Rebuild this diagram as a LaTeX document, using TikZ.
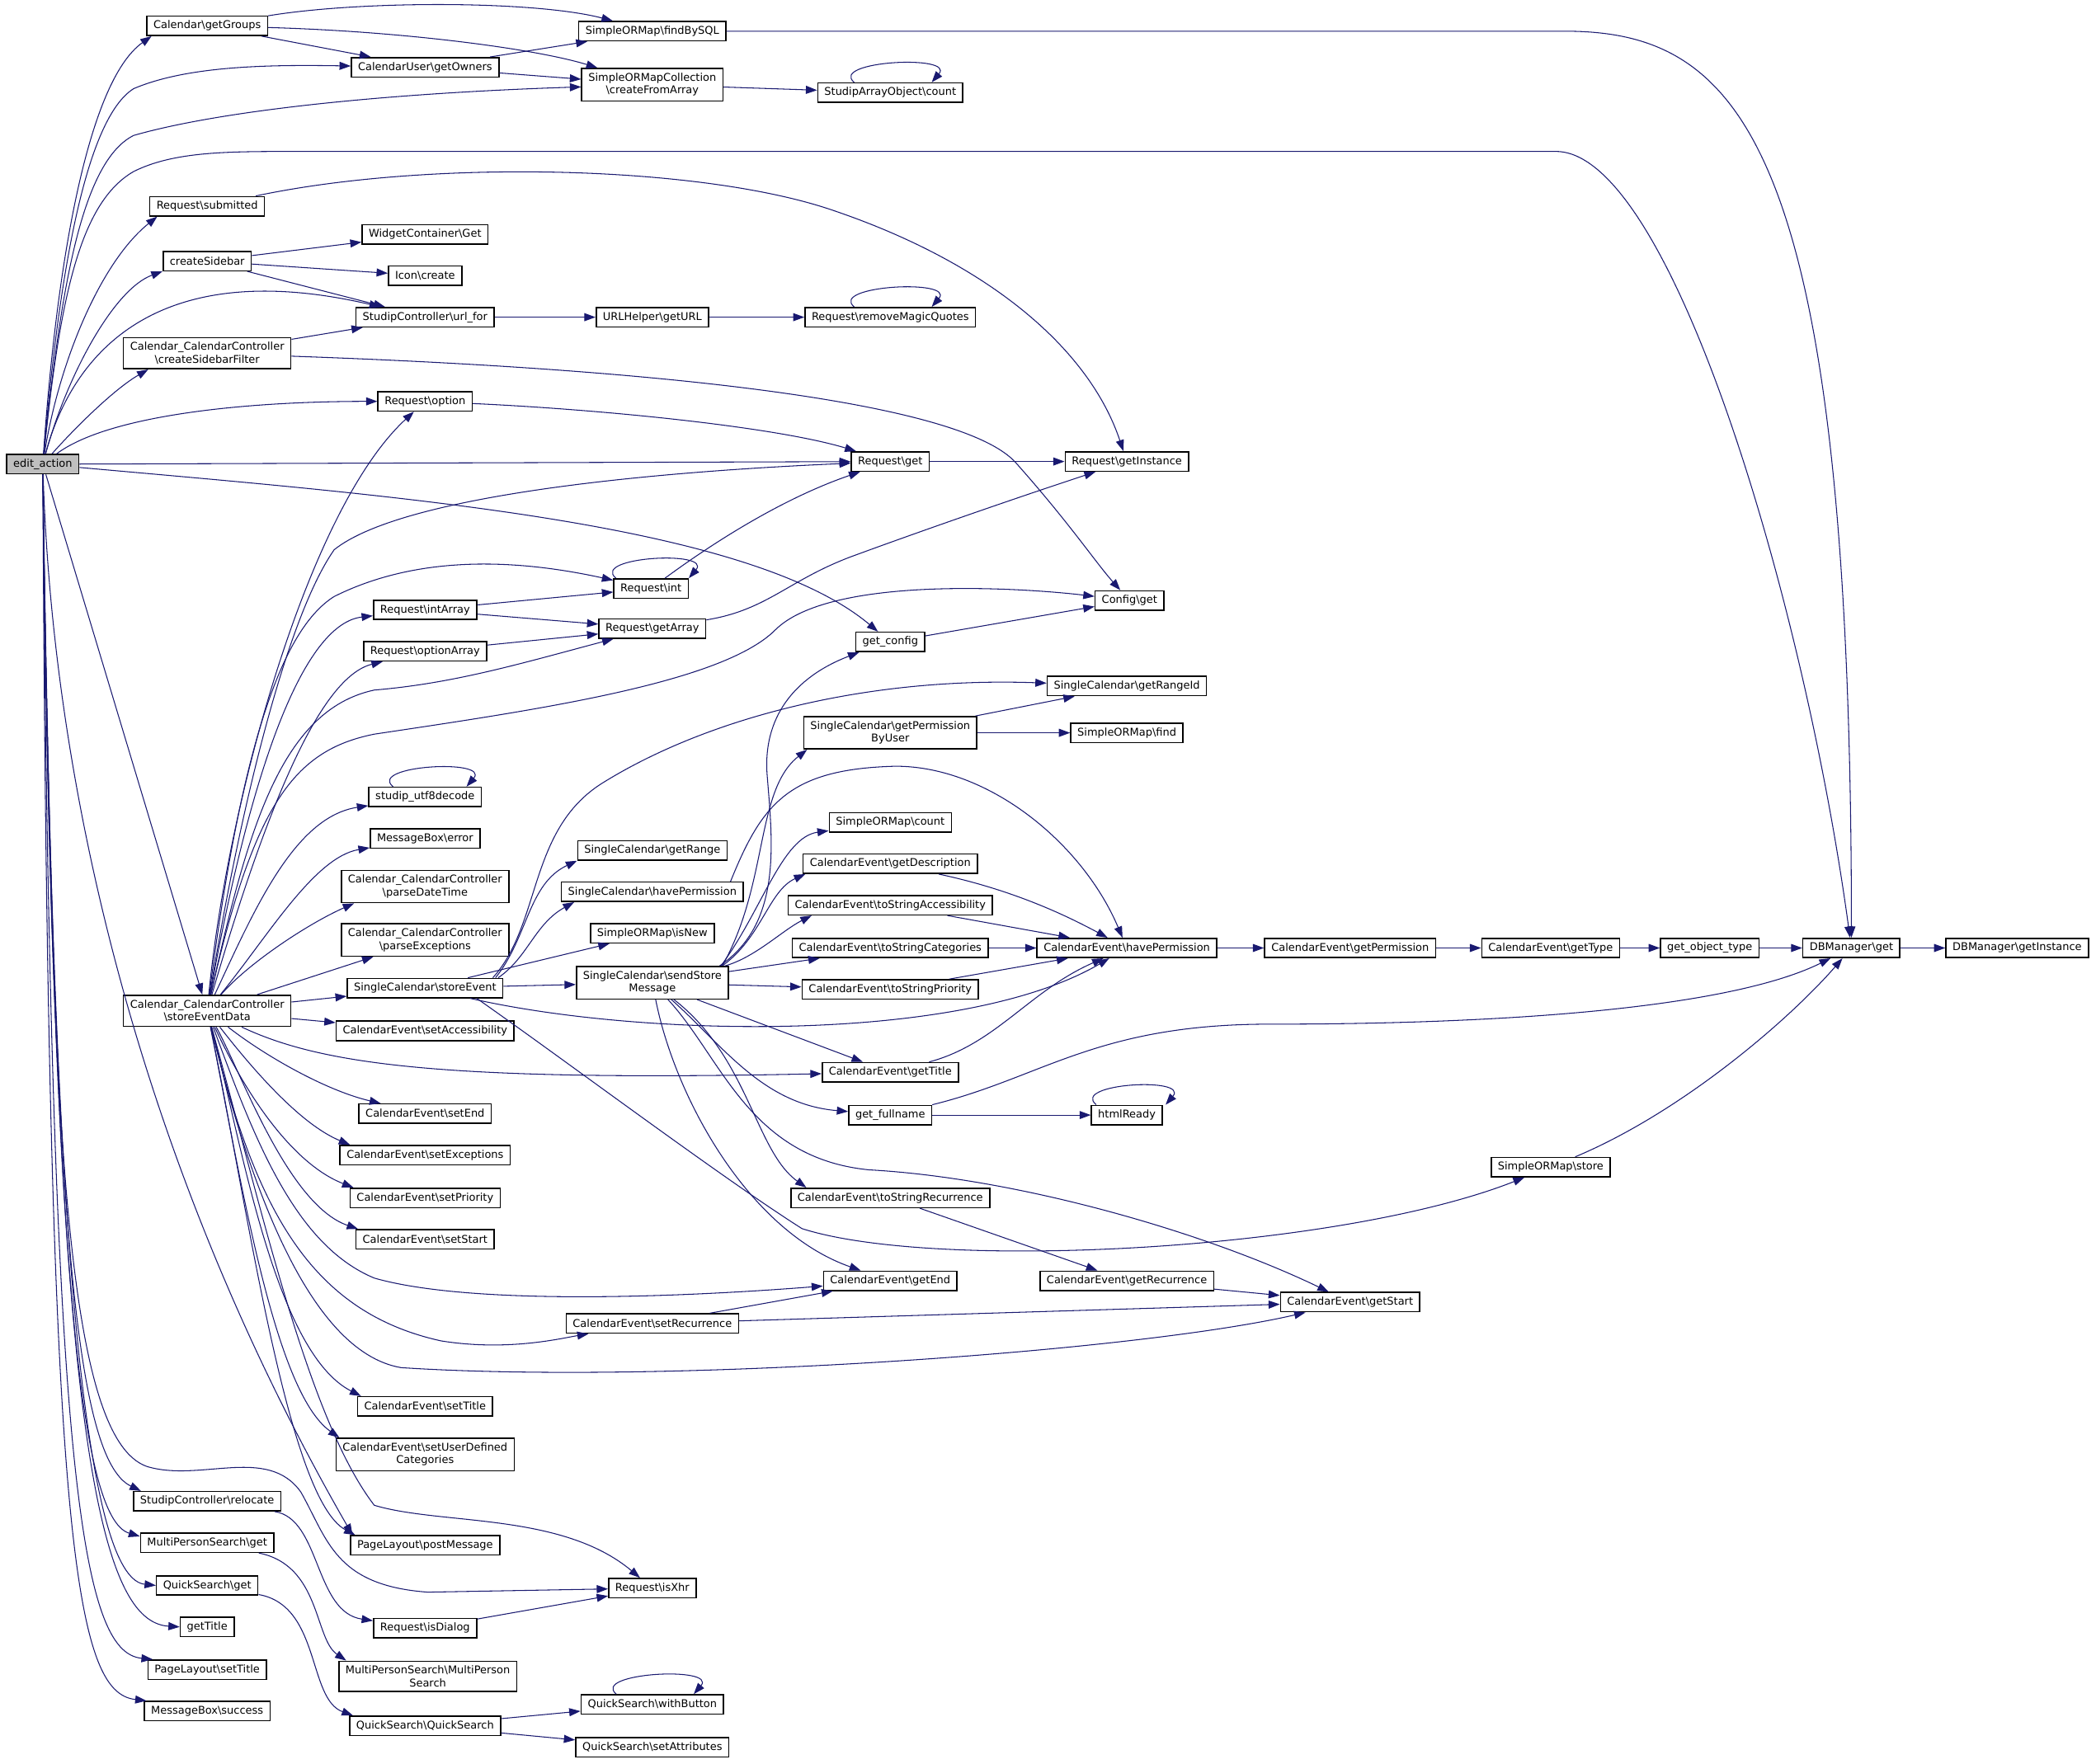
\documentclass[tikz,border=0pt]{standalone}
\usepackage{fontspec}
\setmainfont{DejaVu Sans}
\usetikzlibrary{arrows.meta}
\definecolor{edgeblue}{HTML}{191970}
\newcommand{\bksl}{\textbackslash}
\begin{document}
\begin{tikzpicture}[x=1pt,y=-1pt,
  fn/.style={draw=black,fill=white,line width=0.95pt,font=\fontsize{8}{9.5}\selectfont,
    inner xsep=5pt,inner ysep=2pt,minimum height=14.5pt,align=center},
  two/.style={inner ysep=3.5pt},
  cur/.style={fill=black!25},
  call/.style={draw=edgeblue,line width=0.65pt,-{Triangle[length=8.4pt,width=6pt]}}]
  \path[fill=white] (0,0) rectangle (1568,1318);
  % column 0 and 1
  \node[fn,cur] (edit) at (32,346) {edit\_action};
  \node[fn] (getGroups) at (155,18) {Calendar\bksl getGroups};
  \node[fn] (submitted) at (155,153) {Request\bksl submitted};
  \node[fn] (createSidebar) at (155,194) {createSidebar};
  \node[fn,two] (filter) at (155,263) {Calendar\_CalendarController\\\bksl createSidebarFilter};
  \node[fn,two] (sed) at (155,755) {Calendar\_CalendarController\\\bksl storeEventData};
  \node[fn] (relocate) at (155,1122) {StudipController\bksl relocate};
  \node[fn] (mpsGet) at (155,1153) {MultiPersonSearch\bksl get};
  \node[fn] (qsGet) at (155,1185) {QuickSearch\bksl get};
  \node[fn] (getTitle) at (155,1216) {getTitle};
  \node[fn] (setTitle) at (155,1248) {PageLayout\bksl setTitle};
  \node[fn] (success) at (155,1279) {MessageBox\bksl success};
  % column 2
  \node[fn] (getOwners) at (318,49) {CalendarUser\bksl getOwners};
  \node[fn] (widgetGet) at (318,174) {WidgetContainer\bksl Get};
  \node[fn] (iconCreate) at (318,205) {Icon\bksl create};
  \node[fn] (urlFor) at (318,236) {StudipController\bksl url\_for};
  \node[fn] (reqOption) at (318,299) {Request\bksl option};
  \node[fn] (intArray) at (318,455) {Request\bksl intArray};
  \node[fn] (optionArray) at (318,486) {Request\bksl optionArray};
  \node[fn] (utf8) at (318,595) {studip\_utf8decode};
  \node[fn] (msgError) at (318,626) {MessageBox\bksl error};
  \node[fn,two] (parseDT) at (318,662) {Calendar\_CalendarController\\\bksl parseDateTime};
  \node[fn,two] (parseEx) at (318,702) {Calendar\_CalendarController\\\bksl parseExceptions};
  \node[fn] (storeEvent) at (318,738) {SingleCalendar\bksl storeEvent};
  \node[fn] (setAccess) at (318,770) {CalendarEvent\bksl setAccessibility};
  \node[fn] (setEnd) at (318,832) {CalendarEvent\bksl setEnd};
  \node[fn] (setExc) at (318,863) {CalendarEvent\bksl setExceptions};
  \node[fn] (setPrio) at (318,895) {CalendarEvent\bksl setPriority};
  \node[fn] (setStart) at (318,926) {CalendarEvent\bksl setStart};
  \node[fn] (setTitleCE) at (318,1051) {CalendarEvent\bksl setTitle};
  \node[fn,two] (setUDC) at (318,1087) {CalendarEvent\bksl setUserDefined\\Categories};
  \node[fn] (postMessage) at (318,1155) {PageLayout\bksl postMessage};
  \node[fn] (isDialog) at (318,1217) {Request\bksl isDialog};
  \node[fn,two] (mpsMps) at (320,1253) {MultiPersonSearch\bksl MultiPerson\\Search};
  \node[fn] (qsQs) at (318,1290) {QuickSearch\bksl QuickSearch};
  % column 3
  \node[fn] (findBySQL) at (488,22) {SimpleORMap\bksl findBySQL};
  \node[fn,two] (createFromArray) at (488,62) {SimpleORMapCollection\\\bksl createFromArray};
  \node[fn] (urlHelper) at (488,236) {URLHelper\bksl getURL};
  \node[fn] (reqInt) at (487,439) {Request\bksl int};
  \node[fn] (getArray) at (488,469) {Request\bksl getArray};
  \node[fn] (getRange) at (488,635) {SingleCalendar\bksl getRange};
  \node[fn] (havePerm) at (488,666) {SingleCalendar\bksl havePermission};
  \node[fn] (isNew) at (488,697) {SimpleORMap\bksl isNew};
  \node[fn,two] (sendStore) at (488,734) {SingleCalendar\bksl sendStore\\Message};
  \node[fn] (setRec) at (488,989) {CalendarEvent\bksl setRecurrence};
  \node[fn] (isXhr) at (488,1187) {Request\bksl isXhr};
  \node[fn] (withButton) at (488,1274) {QuickSearch\bksl withButton};
  \node[fn] (setAttr) at (488,1306) {QuickSearch\bksl setAttributes};
  % column 4
  \node[fn] (saoCount) at (666,68) {StudipArrayObject\bksl count};
  \node[fn] (rmq) at (666,236) {Request\bksl removeMagicQuotes};
  \node[fn] (reqGet) at (666,344) {Request\bksl get};
  \node[fn] (getConfig) at (666,479) {get\_config};
  \node[fn,two] (permByUser) at (666,547) {SingleCalendar\bksl getPermission\\ByUser};
  \node[fn] (ormCount) at (666,614) {SimpleORMap\bksl count};
  \node[fn] (getDesc) at (666,645) {CalendarEvent\bksl getDescription};
  \node[fn] (tsAcc) at (666,676) {CalendarEvent\bksl toStringAccessibility};
  \node[fn] (tsCat) at (666,708) {CalendarEvent\bksl toStringCategories};
  \node[fn] (tsPrio) at (666,739) {CalendarEvent\bksl toStringPriority};
  \node[fn] (ceTitle) at (666,801) {CalendarEvent\bksl getTitle};
  \node[fn] (fullname) at (666,833) {get\_fullname};
  \node[fn] (tsRec) at (666,895) {CalendarEvent\bksl toStringRecurrence};
  \node[fn] (ceEnd) at (666,957) {CalendarEvent\bksl getEnd};
  % column 5 and further
  \node[fn] (getInstance) at (843,344) {Request\bksl getInstance};
  \node[fn] (configGet) at (845,448) {Config\bksl get};
  \node[fn] (rangeId) at (843,512) {SingleCalendar\bksl getRangeId};
  \node[fn] (ormFind) at (843,547) {SimpleORMap\bksl find};
  \node[fn] (cePerm) at (843,708) {CalendarEvent\bksl havePermission};
  \node[fn] (htmlReady) at (843,833) {htmlReady};
  \node[fn] (ceRec) at (843,957) {CalendarEvent\bksl getRecurrence};
  \node[fn] (getPerm) at (1010,708) {CalendarEvent\bksl getPermission};
  \node[fn] (ceStart) at (1010,973) {CalendarEvent\bksl getStart};
  \node[fn] (getType) at (1160,708) {CalendarEvent\bksl getType};
  \node[fn] (ormStore) at (1160,872) {SimpleORMap\bksl store};
  \node[fn] (objType) at (1279,708) {get\_object\_type};
  \node[fn] (dbGet) at (1385,708) {DBManager\bksl get};
  \node[fn] (dbInst) at (1509,708) {DBManager\bksl getInstance};
  % edit_action
  \draw[call] (edit) .. controls (42,200) and (65,60) .. ([xshift=4pt]getGroups.south west);
  \draw[call] (edit) .. controls (42,230) and (60,90) .. (100,65) .. controls (140,48) and (200,47) .. (getOwners);
  \draw[call] (edit) .. controls (45,220) and (60,120) .. (100,100) .. controls (170,80) and (300,68) .. (createFromArray);
  \draw[call] (edit) .. controls (45,220) and (60,150) .. (100,127) .. controls (130,112) and (170,112) .. (220,112) -- (1164,112) .. controls (1250,112) and (1350,450) .. (dbGet);
  \draw[call] (edit) .. controls (44,270) and (75,195) .. ([xshift=6pt]submitted.south west);
  \draw[call] (edit) .. controls (50,280) and (85,215) .. (createSidebar.south west);
  \draw[call] (edit) .. controls (55,260) and (120,190) .. (urlFor);
  \draw[call] (edit) .. controls (55,320) and (85,290) .. ([xshift=19pt]filter.south west);
  \draw[call] (edit) .. controls (80,310) and (180,299) .. (reqOption);
  \draw[call] (edit) -- (reqGet);
  \draw[call] (edit) .. controls (300,370) and (560,390) .. (getConfig);
  \draw[call] (edit) -- (sed);
  \draw[call] (edit) .. controls (40,600) and (110,880) .. ([xshift=2pt]postMessage.north west);
  \draw[call] (edit) .. controls (38,850) and (50,1075) .. (110,1096) .. controls (150,1108) and (200,1080) .. (225,1115) .. controls (245,1150) and (250,1185) .. (320,1190) -- (isXhr);
  \draw[call] (edit) .. controls (40,900) and (55,1090) .. ([xshift=6pt]relocate.north west);
  \draw[call] (edit) .. controls (40,950) and (60,1135) .. ([yshift=-3pt]mpsGet.north west);
  \draw[call] (edit) .. controls (40,1000) and (70,1180) .. (qsGet.west);
  \draw[call] (edit) .. controls (40,1050) and (70,1212) .. (getTitle.west);
  \draw[call] (edit) .. controls (38,1100) and (60,1235) .. ([xshift=4pt]setTitle.north west);
  \draw[call] (edit) .. controls (36,1150) and (55,1265) .. ([xshift=2pt]success.north west);
  % upper part
  \draw[call] (getGroups) .. controls (270,-1) and (400,-1) .. (findBySQL);
  \draw[call] (getGroups) .. controls (300,22) and (400,35) .. (createFromArray);
  \draw[call] (getGroups) -- (getOwners);
  \draw[call] (getOwners) -- (findBySQL);
  \draw[call] (getOwners) -- (createFromArray);
  \draw[call] (createFromArray) -- (saoCount);
  \draw[call] ([xshift=-27pt]saoCount.north) .. controls +(-19,-16) and +(18,-21) .. ([xshift=31pt]saoCount.north);
  \draw[call] (findBySQL) -- (1170,22) .. controls (1300,22) and (1385,100) .. (dbGet);
  \draw[call] (submitted) .. controls (320,118) and (520,122) .. (620,155) .. controls (740,195) and (815,260) .. (getInstance);
  \draw[call] (createSidebar) -- (widgetGet);
  \draw[call] (createSidebar) -- (iconCreate);
  \draw[call] (createSidebar) -- (urlFor);
  \draw[call] (filter) -- (urlFor);
  \draw[call] (filter) .. controls (500,275) and (720,300) .. (760,345) .. controls (800,390) and (820,420) .. (configGet);
  \draw[call] (urlFor) -- (urlHelper);
  \draw[call] (urlHelper) -- (rmq);
  \draw[call] ([xshift=-27pt]rmq.north) .. controls +(-19,-16) and +(18,-21) .. ([xshift=31pt]rmq.north);
  \draw[call] (reqOption) .. controls (450,305) and (580,318) .. (reqGet);
  \draw[call] (reqGet) -- (getInstance);
  \draw[call] (reqInt) .. controls (540,400) and (590,370) .. (reqGet);
  \draw[call] ([xshift=2pt]reqInt.north west) .. controls +(-19,-16) and +(18,-21) .. (reqInt.north east);
  \draw[call] (intArray) -- (reqInt);
  \draw[call] (intArray) -- (getArray);
  \draw[call] (optionArray) -- (getArray);
  \draw[call] (getArray) .. controls (575,455) and (590,432) .. (640,414) .. controls (700,392) and (770,368) .. (getInstance);
  \draw[call] (getConfig) -- (configGet);
  % storeEventData
  \draw[call] (sed) .. controls (170,600) and (230,380) .. (reqOption);
  \draw[call] (sed) .. controls (180,600) and (215,460) .. (250,410) .. controls (300,370) and (480,352) .. (reqGet);
  \draw[call] (sed) .. controls (180,560) and (210,470) .. (250,445) .. controls (320,410) and (400,420) .. (reqInt);
  \draw[call] (sed) .. controls (190,560) and (230,465) .. (intArray);
  \draw[call] (sed) .. controls (200,600) and (240,505) .. (optionArray);
  \draw[call] (sed) .. controls (185,620) and (210,530) .. (280,515) .. controls (340,510) and (390,495) .. (getArray);
  \draw[call] (sed) .. controls (190,600) and (220,560) .. (280,548) .. controls (400,530) and (540,510) .. (580,470) .. controls (620,430) and (760,438) .. (configGet);
  \draw[call] (sed) .. controls (190,680) and (220,610) .. (utf8);
  \draw[call] ([xshift=-24pt]utf8.north) .. controls +(-19,-16) and +(18,-21) .. ([xshift=31pt]utf8.north);
  \draw[call] (sed) .. controls (200,700) and (235,640) .. (msgError);
  \draw[call] (sed) .. controls (185,720) and (230,690) .. ([xshift=10pt]parseDT.south west);
  \draw[call] (sed) -- (parseEx);
  \draw[call] (sed) -- (storeEvent);
  \draw[call] (sed) -- (setAccess);
  \draw[call] (sed) .. controls (240,795) and (330,808) .. (ceTitle);
  \draw[call] (sed) .. controls (200,790) and (245,815) .. (setEnd);
  \draw[call] (sed) .. controls (190,800) and (225,840) .. ([xshift=8pt]setExc.north west);
  \draw[call] (sed) .. controls (185,820) and (220,870) .. ([xshift=3pt]setPrio.north west);
  \draw[call] (sed) .. controls (180,800) and (215,900) .. ([xshift=2pt]setStart.north west);
  \draw[call] (sed) .. controls (190,850) and (220,930) .. (280,955) .. controls (350,975) and (500,970) .. (ceEnd);
  \draw[call] (sed) .. controls (190,900) and (230,980) .. (330,1002) .. controls (380,1010) and (420,1000) .. (setRec);
  \draw[call] (sed) .. controls (185,880) and (230,1010) .. (300,1022) .. controls (500,1035) and (850,1010) .. (ceStart);
  \draw[call] (sed) .. controls (180,850) and (205,1010) .. ([xshift=3pt]setTitleCE.north west);
  \draw[call] (sed) .. controls (180,880) and (205,1040) .. ([xshift=3pt]setUDC.north west);
  \draw[call] (sed) .. controls (185,900) and (215,1120) .. ([xshift=4pt]postMessage.north west);
  \draw[call] (sed) .. controls (195,900) and (230,1060) .. (280,1125) .. controls (330,1140) and (420,1130) .. (isXhr);
  % storeEvent
  \draw[call] ([xshift=-8pt]storeEvent.north east) .. controls (405,690) and (395,620) .. (450,585) .. controls (530,535) and (650,505) .. (rangeId);
  \draw[call] ([xshift=-6pt]storeEvent.north east) .. controls (395,700) and (395,660) .. (getRange.south west);
  \draw[call] ([xshift=-4pt]storeEvent.north east) .. controls (395,715) and (400,690) .. ([xshift=10pt]havePerm.south west);
  \draw[call] (storeEvent) -- (isNew);
  \draw[call] (storeEvent) -- (sendStore);
  \draw[call] (storeEvent) .. controls (480,775) and (720,780) .. (cePerm);
  \draw[call] ([xshift=-20pt]storeEvent.south east) .. controls (420,790) and (540,880) .. (600,918) .. controls (700,950) and (1000,935) .. (ormStore);
  \draw[call] ([xshift=-10pt]havePerm.north east) .. controls (570,600) and (590,574) .. (670,572) .. controls (740,572) and (810,630) .. (cePerm);
  \draw[call] (permByUser) -- (rangeId);
  \draw[call] (permByUser) -- (ormFind);
  % sendStoreMessage
  \draw[call] ([xshift=-7pt]sendStore.north east) .. controls (585,690) and (578,630) .. (574,580) .. controls (570,535) and (595,505) .. ([xshift=3pt]getConfig.south west);
  \draw[call] ([xshift=-5pt]sendStore.north east) .. controls (575,660) and (565,590) .. ([xshift=3pt]permByUser.south west);
  \draw[call] ([xshift=-6pt]sendStore.north east) .. controls (570,680) and (585,625) .. (ormCount);
  \draw[call] ([xshift=-5pt]sendStore.north east) .. controls (570,700) and (575,665) .. ([xshift=2pt]getDesc.south west);
  \draw[call] ([xshift=-3pt]sendStore.north east) .. controls (565,715) and (585,695) .. ([xshift=18pt]tsAcc.south west);
  \draw[call] (sendStore) -- (tsCat);
  \draw[call] (sendStore) -- (tsPrio);
  \draw[call] (sendStore) -- (ceTitle);
  \draw[call] (sendStore) .. controls (540,780) and (570,825) .. (fullname);
  \draw[call] (sendStore) .. controls (560,790) and (565,860) .. ([xshift=12pt]tsRec.north west);
  \draw[call] (sendStore) .. controls (505,820) and (560,920) .. (ceEnd);
  \draw[call] (sendStore) .. controls (540,790) and (560,865) .. (650,874) .. controls (760,880) and (900,920) .. (ceStart);
  % CalendarEvent
  \draw[call] (getDesc) .. controls (760,665) and (800,685) .. (cePerm);
  \draw[call] (tsAcc) -- (cePerm);
  \draw[call] (tsCat) -- (cePerm);
  \draw[call] (tsPrio) -- (cePerm);
  \draw[call] (ceTitle) .. controls (745,780) and (770,740) .. (cePerm);
  \draw[call] (cePerm) -- (getPerm);
  \draw[call] (getPerm) -- (getType);
  \draw[call] (getType) -- (objType);
  \draw[call] (objType) -- (dbGet);
  \draw[call] (dbGet) -- (dbInst);
  \draw[call] (fullname) .. controls (780,805) and (820,765) .. (950,765) .. controls (1150,765) and (1300,750) .. (dbGet);
  \draw[call] (fullname) -- (htmlReady);
  \draw[call] ([xshift=4pt]htmlReady.north west) .. controls +(-19,-16) and +(18,-21) .. ([xshift=2pt]htmlReady.north east);
  \draw[call] (ormStore) .. controls (1260,830) and (1340,760) .. (dbGet);
  \draw[call] (tsRec) -- (ceRec);
  \draw[call] (ceRec) -- (ceStart);
  \draw[call] (setRec) -- (ceEnd);
  \draw[call] (setRec) -- (ceStart);
  % lower part
  \draw[call] (relocate) .. controls (240,1135) and (235,1205) .. (isDialog);
  \draw[call] (isDialog) -- (isXhr);
  \draw[call] (mpsGet) .. controls (240,1170) and (235,1225) .. ([xshift=6pt]mpsMps.north west);
  \draw[call] (qsGet) .. controls (240,1200) and (230,1270) .. ([xshift=3pt]qsQs.north west);
  \draw[call] (qsQs) -- (withButton);
  \draw[call] (qsQs) -- (setAttr);
  \draw[call] ([xshift=-27pt]withButton.north) .. controls +(-19,-16) and +(18,-21) .. ([xshift=31pt]withButton.north);
\end{tikzpicture}
\end{document}
